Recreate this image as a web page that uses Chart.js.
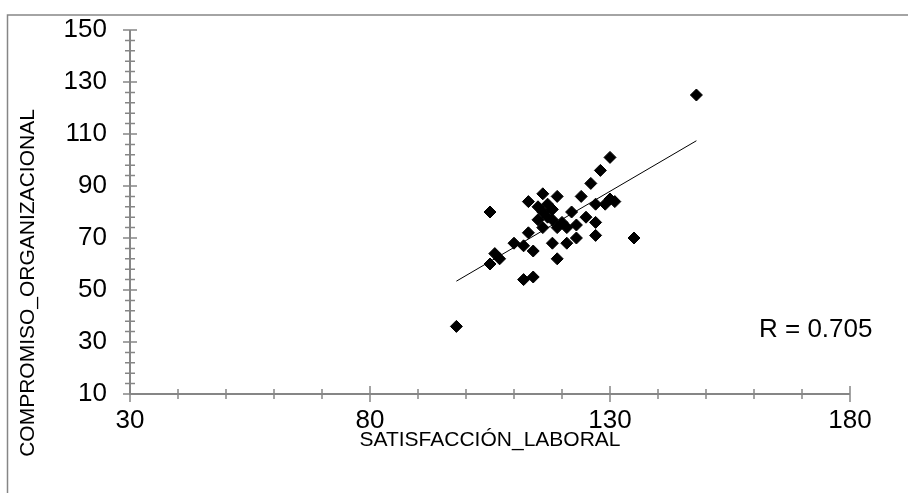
<!DOCTYPE html>
<html>
<head>
<meta charset="utf-8">
<script src="https://cdn.jsdelivr.net/npm/chart.js@4"></script>
<style>
  body { margin: 0; background: #fff; }
</style>
</head>
<body>
<canvas id="grafico" width="908" height="493"></canvas>
<script>
// valores
const satisfaccion = [98, 105, 105, 106, 107, 110, 112, 114, 112, 114, 113, 113, 116, 119, 118, 119, 121, 123, 122, 124,
    126, 128, 130, 135, 127, 127, 125, 123, 121, 127, 129, 131, 130, 117, 116, 117, 115, 118, 120, 116, 119, 118, 115, 148];
const compromiso = [36, 80, 60, 64, 62, 68, 67, 65, 54, 55, 84, 72, 87, 86, 68, 62, 68, 70, 80, 86,
    91, 96, 101, 70, 71, 76, 78, 75, 74, 83, 83, 84, 85, 83, 80, 78, 77, 77, 76, 74, 74, 81, 82, 125];

// linea de tendencia (extremos)
const tendenciaX = [98, 148];
const tendenciaY = [53.4, 107.4];

const xTicks = [30, 80, 130, 180];
const yTicks = [10, 30, 50, 70, 90, 110, 130, 150];
const textoR = 'R = 0.705';

const GRIS = '#868686';

// ejes con marcas menores que cruzan la linea, marco y textos extra
const ejesPlugin = {
    id: 'ejes',
    beforeDraw(chart) {
        const ctx = chart.ctx;
        ctx.save();
        ctx.fillStyle = '#fff';
        ctx.fillRect(0, 0, chart.width, chart.height);
        ctx.strokeStyle = GRIS;
        ctx.lineWidth = 1.5;
        ctx.beginPath();
        ctx.moveTo(7.5, chart.height);
        ctx.lineTo(7.5, 15);
        ctx.lineTo(chart.width, 15);
        ctx.stroke();
        ctx.restore();
    },
    afterDatasetsDraw(chart) {
        const ctx = chart.ctx;
        const x = chart.scales.x;
        const y = chart.scales.y;
        const x0 = x.getPixelForValue(x.min);
        const y0 = y.getPixelForValue(y.min);
        ctx.save();
        ctx.strokeStyle = GRIS;
        ctx.lineWidth = 2;
        ctx.beginPath();
        ctx.moveTo(x0, y.getPixelForValue(y.max));
        ctx.lineTo(x0, y0);
        ctx.lineTo(x.getPixelForValue(x.max), y0);
        ctx.stroke();

        ctx.lineWidth = 1.5;
        ctx.beginPath();
        for (let v = y.min; v <= y.max; v += 4) {
            const py = y.getPixelForValue(v);
            const len = yTicks.includes(v) ? 7 : 5;
            ctx.moveTo(x0 - len, py);
            ctx.lineTo(x0 + len, py);
        }
        for (let v = x.min; v <= x.max; v += 10) {
            const px = x.getPixelForValue(v);
            const len = xTicks.includes(v) ? 8 : 5;
            ctx.moveTo(px, y0 - len);
            ctx.lineTo(px, y0 + len);
        }
        ctx.stroke();

        // titulo del eje Y
        ctx.fillStyle = '#000';
        ctx.font = '21px "Liberation Sans", Arial, sans-serif';
        ctx.textAlign = 'center';
        ctx.textBaseline = 'middle';
        ctx.translate(28, 283);
        ctx.rotate(-Math.PI / 2);
        ctx.fillText('COMPROMISO_ORGANIZACIONAL', 0, 0);
        ctx.restore();

        ctx.save();
        ctx.fillStyle = '#000';
        ctx.font = '26px "Liberation Sans", Arial, sans-serif';
        ctx.textAlign = 'left';
        ctx.textBaseline = 'alphabetic';
        ctx.fillText(textoR, 759, 337);
        ctx.restore();
    }
};

const puntos = satisfaccion.map((v, i) => ({ x: v, y: compromiso[i] }));
const tendencia = tendenciaX.map((v, i) => ({ x: v, y: tendenciaY[i] }));

const ctx = document.getElementById('grafico').getContext('2d');
new Chart(ctx, {
    type: 'scatter',
    data: {
        datasets: [
            {
                label: 'Datos',
                data: puntos,
                pointStyle: 'rectRot',
                pointRadius: 6,
                pointHoverRadius: 6,
                backgroundColor: '#000',
                borderColor: '#000',
                borderWidth: 1
            },
            {
                label: 'Tendencia',
                type: 'line',
                data: tendencia,
                showLine: true,
                pointRadius: 0,
                borderColor: '#000',
                borderWidth: 1,
                fill: false
            }
        ]
    },
    options: {
        responsive: false,
        animation: false,
        layout: {
            padding: { top: 30, right: 58, left: 0, bottom: 0 }
        },
        plugins: {
            legend: { display: false },
            tooltip: { enabled: false }
        },
        scales: {
            x: {
                type: 'linear',
                min: 30,
                max: 180,
                afterFit(scale) {
                    scale.height = 99;
                    scale.paddingLeft = 0;
                    scale.paddingRight = 0;
                },
                afterBuildTicks(scale) { scale.ticks = xTicks.map(v => ({ value: v })); },
                grid: { display: false, drawTicks: false },
                border: { display: false },
                ticks: {
                    color: '#000',
                    padding: 11,
                    font: { family: '"Liberation Sans", Arial, sans-serif', size: 26 }
                },
                title: {
                    display: true,
                    text: 'SATISFACCIÓN_LABORAL',
                    color: '#000',
                    font: { family: '"Liberation Sans", Arial, sans-serif', size: 21 },
                    padding: { top: 0, bottom: 40 }
                }
            },
            y: {
                type: 'linear',
                min: 10,
                max: 150,
                afterFit(scale) {
                    scale.width = 130;
                    scale.paddingTop = 0;
                    scale.paddingBottom = 0;
                },
                afterBuildTicks(scale) { scale.ticks = yTicks.map(v => ({ value: v })); },
                grid: { display: false, drawTicks: false },
                border: { display: false },
                ticks: {
                    color: '#000',
                    padding: 23,
                    font: { family: '"Liberation Sans", Arial, sans-serif', size: 26 }
                }
            }
        }
    },
    plugins: [ejesPlugin]
});
</script>
</body>
</html>
